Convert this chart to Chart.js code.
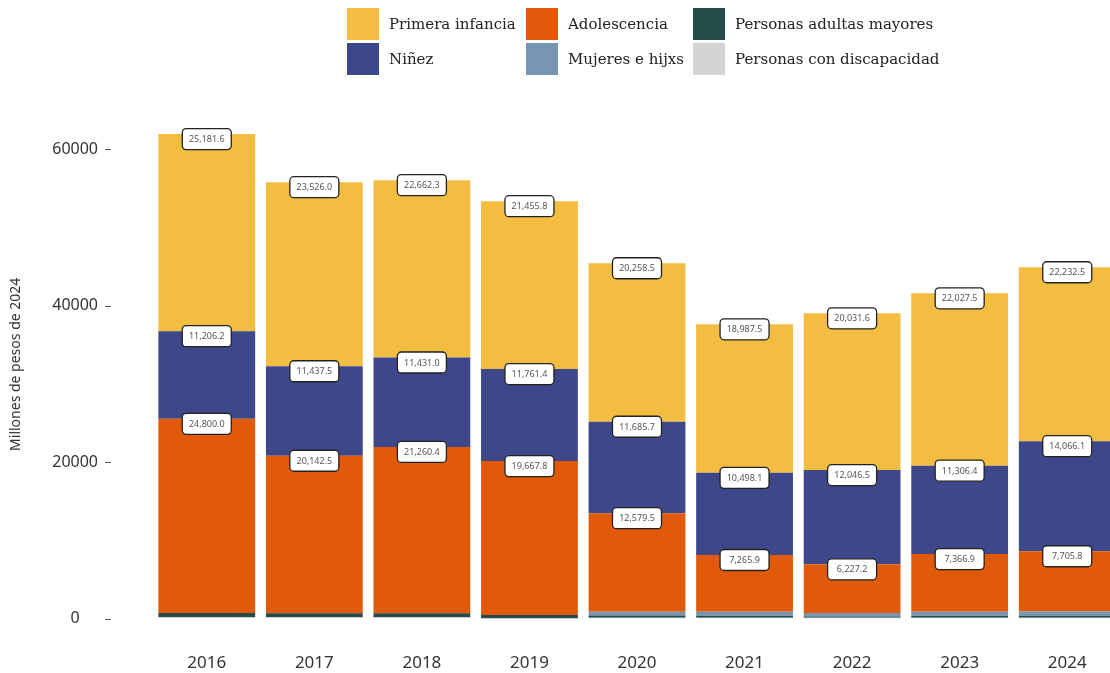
<!DOCTYPE html>
<html>
<head>
<meta charset="utf-8">
<script src="https://cdn.jsdelivr.net/npm/chart.js@4"></script>
<style>
  html, body { margin: 0; padding: 0; background: #fff; overflow: hidden; width: 1110px; height: 673px; }
  #wrap { position: absolute; left: 0; top: 0; width: 1130px; height: 707px; }
  #legend {
    position: absolute; left: 347px; top: 8px;
    display: grid; grid-template-columns: 179px 167px auto; row-gap: 3px;
    font-family: 'DejaVu Serif', serif; font-size: 15px; color: #222;
  }
  .item { display: flex; align-items: center; height: 32px; }
  .sw { width: 32px; height: 32px; margin-right: 10px; flex: none; }
</style>
</head>
<body>
<div id="wrap"><canvas id="chart"></canvas></div>
<div id="legend"></div>
<script>
// ── data ──────────────────────────────
var years = ['2016','2017','2018','2019','2020','2021','2022','2023','2024'];
var primeraInfancia = [25181.6, 23526.0, 22662.3, 21455.8, 20258.5, 18987.5, 20031.6, 22027.5, 22232.5];
var ninez           = [11206.2, 11437.5, 11431.0, 11761.4, 11685.7, 10498.1, 12046.5, 11306.4, 14066.1];
var adolescencia    = [24800.0, 20142.5, 21260.4, 19667.8, 12579.5, 7265.9, 6227.2, 7366.9, 7705.8];
var mujeres         = [0, 0, 0, 0, 480, 480, 440, 500, 520];
var adultos         = [560, 500, 510, 460, 290, 270, 170, 260, 270];
var discapacidad    = [170, 170, 170, 0, 120, 110, 100, 115, 110];
var yTicks = [0, 20000, 40000, 60000];

var COLORS = {
  primera: '#F3BD41',
  ninez:   '#3D4789',
  adol:    '#E05A0A',
  mujeres: '#7696B4',
  adultos: '#254B4B',
  disc:    '#D4D4D4'
};

// legend order (column-major, 2 rows)
var legendItems = [
  ['Primera infancia', COLORS.primera],
  ['Adolescencia', COLORS.adol],
  ['Personas adultas mayores', COLORS.adultos],
  ['Niñez', COLORS.ninez],
  ['Mujeres e hijxs', COLORS.mujeres],
  ['Personas con discapacidad', COLORS.disc]
];
var lg = document.getElementById('legend');
legendItems.forEach(function (it) {
  var d = document.createElement('div');
  d.className = 'item';
  d.innerHTML = '<span class="sw" style="background:' + it[1] + '"></span><span></span>';
  d.lastChild.textContent = it[0];
  lg.appendChild(d);
});

// boxed value labels at the top of each labelled segment
var boxLabels = {
  id: 'boxLabels',
  afterDatasetsDraw: function (chart) {
    var ctx = chart.ctx;
    ctx.save();
    ctx.font = "9px 'Noto Sans', sans-serif";
    ctx.textAlign = 'center';
    ctx.textBaseline = 'middle';
    chart.data.datasets.forEach(function (ds, di) {
      if (!ds.boxed) return;
      chart.getDatasetMeta(di).data.forEach(function (el, i) {
        var txt = ds.data[i].toLocaleString('en-US', { minimumFractionDigits: 1, maximumFractionDigits: 1 });
        var w = 49, h = 21, x = el.x - w / 2, y = el.y + 5 - h / 2;
        ctx.beginPath();
        ctx.roundRect(x, y, w, h, 4);
        ctx.fillStyle = '#fff';
        ctx.fill();
        ctx.lineWidth = 1.3;
        ctx.strokeStyle = '#222';
        ctx.stroke();
        ctx.fillStyle = '#555';
        ctx.fillText(txt, el.x, el.y + 5.5);
      });
    });
    ctx.restore();
  }
};

// short tick dashes left of the plot
var yDashes = {
  id: 'yDashes',
  afterDraw: function (chart) {
    var s = chart.scales.y, ctx = chart.ctx;
    ctx.save();
    ctx.strokeStyle = '#555';
    ctx.lineWidth = 1;
    s.ticks.forEach(function (t) {
      var py = Math.round(s.getPixelForValue(t.value)) + 0.5;
      ctx.beginPath();
      ctx.moveTo(s.right - 48, py);
      ctx.lineTo(s.right - 42, py);
      ctx.stroke();
    });
    ctx.restore();
  }
};

function ds(label, data, color, boxed) {
  return { label: label, data: data, backgroundColor: color, borderWidth: 0, boxed: boxed,
           barPercentage: 0.9, categoryPercentage: 1.0 };
}

new Chart(document.getElementById('chart'), {
  type: 'bar',
  data: {
    labels: years,
    datasets: [
      ds('Personas con discapacidad', discapacidad, COLORS.disc, false),
      ds('Personas adultas mayores', adultos, COLORS.adultos, false),
      ds('Mujeres e hijxs', mujeres, COLORS.mujeres, false),
      ds('Adolescencia', adolescencia, COLORS.adol, true),
      ds('Niñez', ninez, COLORS.ninez, true),
      ds('Primera infancia', primeraInfancia, COLORS.primera, true)
    ]
  },
  options: {
    responsive: true, maintainAspectRatio: false, animation: false,
    layout: { padding: { top: 110, right: 9, bottom: 0, left: 0 } },
    plugins: { legend: { display: false }, tooltip: { enabled: false } },
    scales: {
      x: {
        stacked: true,
        grid: { display: false, drawTicks: false },
        border: { display: false },
        ticks: { color: '#333', padding: 34, font: { family: "'Noto Sans', sans-serif", size: 17 } }
      },
      y: {
        stacked: true, min: 0, max: 65000,
        afterBuildTicks: function (s) { s.ticks = yTicks.map(function (v) { return { value: v }; }); },
        afterFit: function (s) { s.width = 153; },
        grid: { display: false, drawTicks: false },
        border: { display: false },
        ticks: { color: '#333', crossAlign: 'center', padding: 55,
                 callback: function (v) { return String(v); },
                 font: { family: "'Noto Sans', sans-serif", size: 16 } },
        title: { display: true, text: 'Millones de pesos de 2024', color: '#333',
                 padding: { top: 8, bottom: 0 },
                 font: { family: "'Noto Sans', sans-serif", size: 14 } }
      }
    }
  },
  plugins: [boxLabels, yDashes]
});
</script>
</body>
</html>
